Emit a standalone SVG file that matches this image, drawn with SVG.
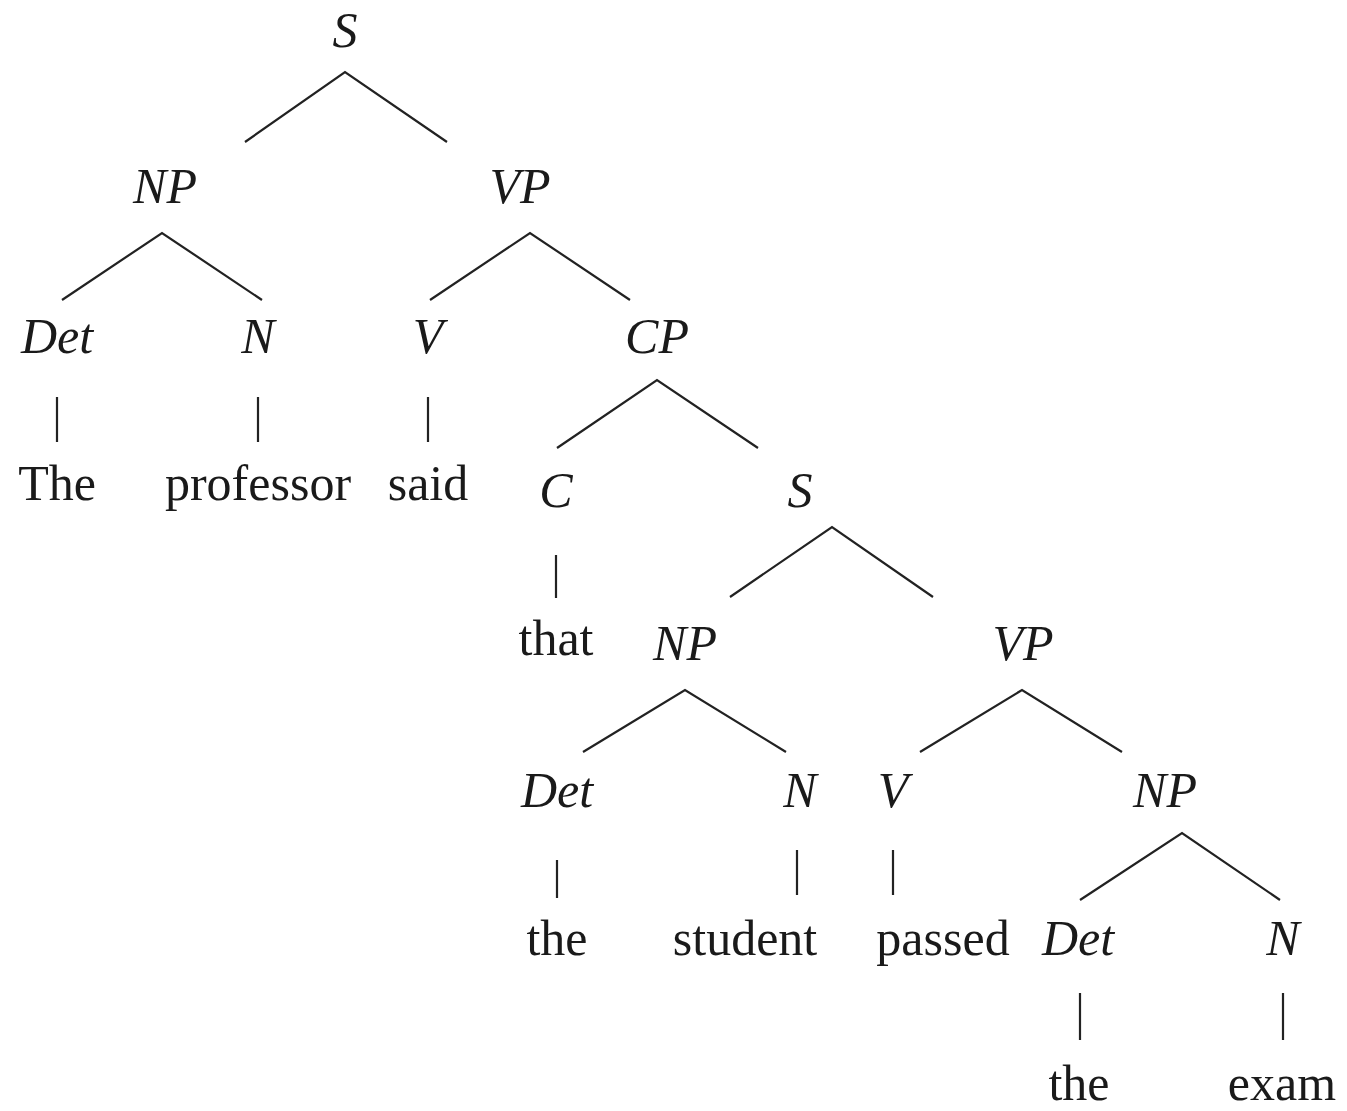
<svg xmlns="http://www.w3.org/2000/svg" width="1347" height="1111" viewBox="0 0 1347 1111">
<style>
text{font-family:"Liberation Serif","Times New Roman",serif;font-size:50px;fill:#1a1a1a;text-anchor:middle}
.cat{font-style:italic}
.e{stroke:#222;stroke-width:2.2;fill:none}
</style>
<rect width="1347" height="1111" fill="#fff"/>
<g id="connectors">
<path class="e" d="M245,142 L345,72 L447,142"/>
<path class="e" d="M62,300 L162,233 L262,300"/>
<path class="e" d="M430,300 L530,233 L630,300"/>
<path class="e" d="M57,397 V442 M258,397 V442 M428,397 V442"/>
<path class="e" d="M557,448 L657,380 L758,448"/>
<path class="e" d="M556,555 V598"/>
<path class="e" d="M730,597 L832,527 L933,597"/>
<path class="e" d="M583,752 L685,690 L786,752"/>
<path class="e" d="M920,752 L1022,690 L1122,752"/>
<path class="e" d="M557,860 V898 M797,850 V895 M893,850 V895"/>
<path class="e" d="M1080,900 L1182,833 L1280,900"/>
<path class="e" d="M1080,993 V1040 M1283,993 V1040"/>
</g>
<g id="n-S1"><text class="cat" x="345" y="47">S</text></g>
<g id="n-NP1"><text class="cat" x="165" y="203">NP</text></g>
<g id="n-VP1"><text class="cat" x="520" y="203">VP</text></g>
<g id="n-Det1"><text class="cat" x="57" y="353">Det</text></g>
<g id="n-N1"><text class="cat" x="258" y="353">N</text></g>
<g id="n-V1"><text class="cat" x="428" y="353">V</text></g>
<g id="n-CP"><text class="cat" x="657" y="353">CP</text></g>
<g id="n-The"><text x="57" y="500">The</text></g>
<g id="n-professor"><text x="258" y="500">professor</text></g>
<g id="n-said"><text x="428" y="500">said</text></g>
<g id="n-C"><text class="cat" x="556" y="507">C</text></g>
<g id="n-S2"><text class="cat" x="800" y="507">S</text></g>
<g id="n-that"><text x="556" y="655">that</text></g>
<g id="n-NP2"><text class="cat" x="685" y="660">NP</text></g>
<g id="n-VP2"><text class="cat" x="1023" y="660">VP</text></g>
<g id="n-Det2"><text class="cat" x="557" y="807">Det</text></g>
<g id="n-N2"><text class="cat" x="800" y="807">N</text></g>
<g id="n-V2"><text class="cat" x="893" y="807">V</text></g>
<g id="n-NP3"><text class="cat" x="1165" y="807">NP</text></g>
<g id="n-the1"><text x="557" y="955">the</text></g>
<g id="n-student"><text x="745" y="955">student</text></g>
<g id="n-passed"><text x="943" y="955">passed</text></g>
<g id="n-Det3"><text class="cat" x="1078" y="955">Det</text></g>
<g id="n-N3"><text class="cat" x="1283" y="955">N</text></g>
<g id="n-the2"><text x="1079" y="1100">the</text></g>
<g id="n-exam"><text x="1282" y="1100">exam</text></g>
</svg>
